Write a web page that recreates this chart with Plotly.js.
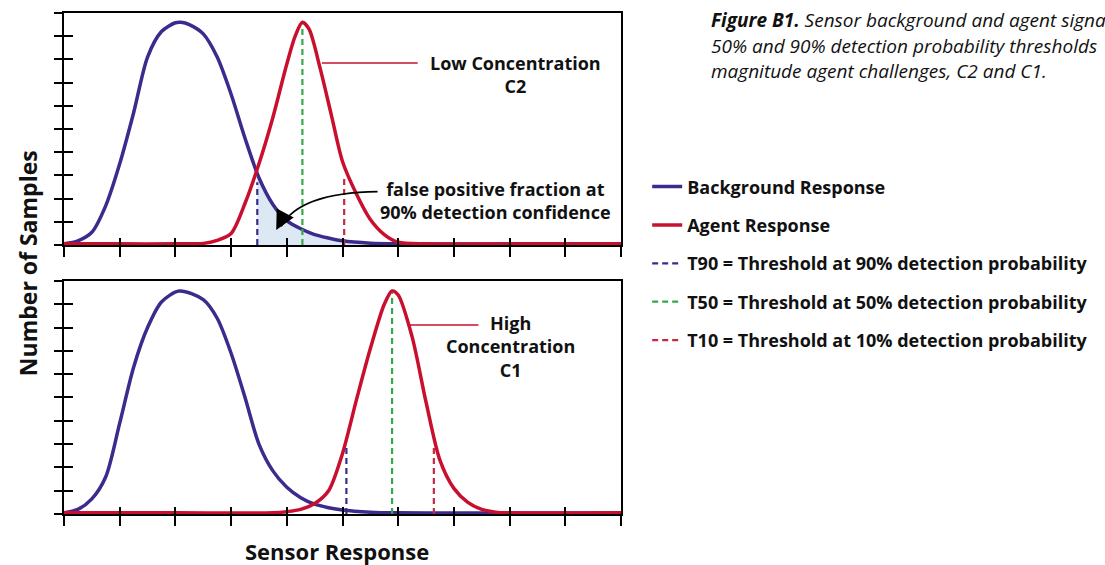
<!DOCTYPE html>
<html><head><meta charset="utf-8">
<script src="https://cdn.plot.ly/plotly-3.0.1.min.js"></script>
<style>html,body{margin:0;padding:0;background:#fff;overflow:hidden}</style>
</head><body>
<div id="chart" style="width:1105px;height:565px"></div>
<script>
// ---- Data (sensor response units, sample counts 0-10) ----
// Top panel: low concentration C2
const bgTopX = [0, 0.25, 0.5, 0.75, 1.0, 1.25, 1.5, 1.75, 2.0, 2.1, 2.25, 2.5, 2.75, 3.0, 3.25, 3.5, 3.75, 4.0, 4.25, 4.5, 4.75, 5.0, 5.5, 6.0, 7.0, 8.0, 10.0];
const bgTopY = [0.05, 0.18, 0.55, 1.7, 3.5, 5.7, 8.1, 9.2, 9.58, 9.6, 9.5, 9.1, 8.1, 6.5, 4.6, 2.9, 1.75, 1.05, 0.7, 0.45, 0.3, 0.18, 0.08, 0.05, 0.04, 0.04, 0.04];
const agTopX = [0, 1.0, 2.0, 2.5, 2.75, 3.0, 3.25, 3.5, 3.75, 4.0, 4.15, 4.28, 4.4, 4.6, 4.8, 5.0, 5.25, 5.5, 5.75, 6.0, 6.5, 8.0, 10.0];
const agTopY = [0.05, 0.05, 0.05, 0.07, 0.2, 0.5, 1.8, 3.5, 5.5, 7.8, 9.0, 9.6, 9.3, 7.6, 5.6, 3.6, 2.2, 1.1, 0.45, 0.12, 0.05, 0.05, 0.05];
// thresholds (x position, height of dashed marker)
const thrTopX = {T90: 3.47, T50: 4.28, T10: 5.03};
const thrTopH = {T90: 2.7, T50: 9.5, T10: 3.0};
const fillStartY = 3.05; // background value at the T90 threshold (top panel)

// Bottom panel: high concentration C1
const bgBotX = [0, 0.25, 0.5, 0.75, 1.0, 1.25, 1.5, 1.75, 2.07, 2.5, 2.75, 3.0, 3.25, 3.5, 3.75, 4.0, 4.25, 4.5, 4.75, 5.0, 5.5, 6.0, 7.0, 8.0, 10.0];
const bgBotY = [0.05, 0.2, 0.65, 1.6, 3.9, 6.3, 8.0, 9.1, 9.57, 9.2, 8.4, 6.9, 5.0, 3.0, 1.85, 1.15, 0.7, 0.42, 0.27, 0.17, 0.08, 0.05, 0.04, 0.04, 0.04];
const agBotX = [0, 2.0, 3.75, 4.0, 4.25, 4.5, 4.75, 5.0, 5.25, 5.5, 5.75, 5.89, 6.0, 6.25, 6.5, 6.75, 7.0, 7.25, 7.5, 7.75, 8.0, 10.0];
const agBotY = [0.05, 0.05, 0.05, 0.1, 0.2, 0.45, 1.0, 2.6, 4.9, 7.1, 9.0, 9.57, 9.4, 7.6, 4.8, 2.3, 1.1, 0.5, 0.2, 0.08, 0.05, 0.05];
const thrBotX = {T90: 5.07, T50: 5.89, T10: 6.64};
const thrBotH = {T90: 3.0, T50: 9.5, T10: 3.0};

const legendNames = {
  bg: 'Background Response',
  ag: 'Agent Response',
  T90: 'T90 = Threshold at 90% detection probability',
  T50: 'T50 = Threshold at 50% detection probability',
  T10: 'T10 = Threshold at 10% detection probability'
};
const xTicks = [0,1,2,3,4,5,6,7,8,9,10];
const yTicks = [0,1,2,3,4,5,6,7,8,9,10];

// ---- Styles ----
const BLUE = '#3a2b8c', RED = '#c8102e', GREEN = '#35a94a', RED_D = '#c42a44', FILL = '#dce9f5';
const FONT = 'Open Sans, Lato, sans-serif';
const thrColor = {T90: BLUE, T50: GREEN, T10: RED_D};

const traces = [];
// fill under background beyond T90 (top)
const fx = [thrTopX.T90], fy = [fillStartY];
bgTopX.forEach((x, i) => { if (x > thrTopX.T90) { fx.push(x); fy.push(bgTopY[i]); } });
traces.push({x: fx, y: fy, xaxis: 'x', yaxis: 'y', mode: 'lines', line: {width: 0, shape: 'spline', smoothing: 0.8},
  fill: 'tozeroy', fillcolor: FILL, showlegend: false, hoverinfo: 'skip'});

function panel(xa, ya, bx, by, ax, ay, tx, th, show) {
  traces.push({x: bx, y: by, xaxis: xa, yaxis: ya, mode: 'lines', name: legendNames.bg, legendgroup: 'bg',
    showlegend: show, line: {color: BLUE, width: 3.5, shape: 'spline', smoothing: 0.8}});
  traces.push({x: ax, y: ay, xaxis: xa, yaxis: ya, mode: 'lines', name: legendNames.ag, legendgroup: 'ag',
    showlegend: show, line: {color: RED, width: 3.5, shape: 'spline', smoothing: 0.8}});
  ['T90', 'T50', 'T10'].forEach(k => {
    traces.push({x: [tx[k], tx[k]], y: [0, th[k]], xaxis: xa, yaxis: ya, mode: 'lines', name: legendNames[k],
      legendgroup: k, showlegend: show, line: {color: thrColor[k], width: 2.2, dash: '6px,4px'}});
  });
}
panel('x', 'y', bgTopX, bgTopY, agTopX, agTopY, thrTopX, thrTopH, true);
panel('x2', 'y2', bgBotX, bgBotY, agBotX, agBotY, thrBotX, thrBotH, false);
// empty traces to activate the overlay axes (inner half of crossing ticks)
traces.push({x: [], y: [], xaxis: 'x3', yaxis: 'y', showlegend: false, hoverinfo: 'skip'});
traces.push({x: [], y: [], xaxis: 'x', yaxis: 'y3', showlegend: false, hoverinfo: 'skip'});
traces.push({x: [], y: [], xaxis: 'x4', yaxis: 'y2', showlegend: false, hoverinfo: 'skip'});
traces.push({x: [], y: [], xaxis: 'x2', yaxis: 'y4', showlegend: false, hoverinfo: 'skip'});

const topDom = [0.5369, 1], botDom = [0, 0.4651];
function mainX(anchor) {
  return {domain: [0, 1], range: [0, 10], anchor: anchor, tickvals: xTicks, showticklabels: false,
    ticks: 'outside', ticklen: 10, tickwidth: 2, tickcolor: '#000', showline: true, linecolor: '#000',
    linewidth: 2, mirror: true, showgrid: false, zeroline: false, fixedrange: true};
}
function mainY(anchor, dom) {
  return {domain: dom, range: [0, 10], anchor: anchor, tickvals: yTicks, showticklabels: false,
    ticks: 'outside', ticklen: 8, tickwidth: 2, tickcolor: '#000', showline: true, linecolor: '#000',
    linewidth: 2, mirror: true, showgrid: false, zeroline: false, fixedrange: true};
}
function ovX(over, anchor) {
  return {overlaying: over, anchor: anchor, range: [0, 10], tickvals: xTicks, showticklabels: false,
    ticks: 'inside', ticklen: 7, tickwidth: 2, tickcolor: '#000', showline: false, showgrid: false,
    zeroline: false, side: 'bottom', fixedrange: true};
}
function ovY(over, anchor) {
  return {overlaying: over, anchor: anchor, range: [0, 10], tickvals: yTicks, showticklabels: false,
    ticks: 'inside', ticklen: 9, tickwidth: 2, tickcolor: '#000', showline: false, showgrid: false,
    zeroline: false, side: 'left', fixedrange: true};
}

const bold = (s) => '<b>' + s + '</b>';
const TXT = '#111';
const annotations = [
  {xref: 'x', yref: 'y', x: 8.1, y: 7.37, xanchor: 'center', yanchor: 'middle', text: bold('Low Concentration<br>C2'), showarrow: false,
    font: {family: FONT, size: 18, color: TXT}, align: 'center'},
  {xref: 'x', yref: 'y', x: 7.75, y: 1.9, xanchor: 'center', yanchor: 'middle', text: bold('false positive fraction at<br>90% detection confidence'), showarrow: false,
    font: {family: FONT, size: 18, color: TXT}, align: 'center'},
  {xref: 'x', yref: 'y', x: 3.81, y: 0.65, ax: 9, ay: -17, text: '', showarrow: true, arrowhead: 2, arrowsize: 2.4,
    arrowwidth: 1.6, arrowcolor: '#000'},
  {xref: 'x2', yref: 'y2', x: 8.01, y: 7.17, xanchor: 'center', yanchor: 'middle', text: bold('High<br>Concentration<br>C1'), showarrow: false,
    font: {family: FONT, size: 18, color: TXT}, align: 'center'},
  {xref: 'paper', yref: 'paper', x: -0.0644, y: 0.501, xanchor: 'center', yanchor: 'middle', text: bold('Number of Samples'), textangle: -90, showarrow: false,
    font: {family: FONT, size: 23, color: TXT}},
  {xref: 'paper', yref: 'paper', x: 0.49, y: -0.0735, xanchor: 'center', yanchor: 'middle', text: bold('Sensor Response'), showarrow: false,
    font: {family: FONT, size: 22, color: TXT}},
  {xref: 'paper', yref: 'paper', x: 1.1574, y: 0.986, xanchor: 'left', yanchor: 'middle', text: '<b><i>Figure B1.</i></b><i> Sensor background and agent signal</i>',
    showarrow: false, font: {family: FONT, size: 19, color: TXT}},
  {xref: 'paper', yref: 'paper', x: 1.1574, y: 0.934, xanchor: 'left', yanchor: 'middle', text: '<i>50% and 90% detection probability thresholds</i>',
    showarrow: false, font: {family: FONT, size: 19, color: TXT}},
  {xref: 'paper', yref: 'paper', x: 1.1574, y: 0.884, xanchor: 'left', yanchor: 'middle', text: '<i>magnitude agent challenges, C2 and C1.</i>',
    showarrow: false, font: {family: FONT, size: 19, color: TXT}}
];

const shapes = [
  {type: 'line', xref: 'x', yref: 'y', x0: 4.63, x1: 6.35, y0: 7.84, y1: 7.84, line: {color: RED, width: 1.5}},
  {type: 'line', xref: 'x2', yref: 'y2', x0: 6.19, x1: 7.44, y0: 8.11, y1: 8.11, line: {color: RED, width: 1.5}},
  {type: 'path', xref: 'x', yref: 'y', path: 'M 5.63 2.3 Q 4.22 2.25 3.9 0.8', line: {color: '#000', width: 1.6}}
];

const layout = {
  width: 1105, height: 565, paper_bgcolor: '#fff', plot_bgcolor: 'rgba(0,0,0,0)',
  margin: {l: 64, r: 482, t: 13, b: 51},
  showlegend: true,
  legend: {x: 1.047, y: 0.69, xanchor: 'left', yanchor: 'top', bgcolor: 'rgba(0,0,0,0)',
    font: {family: FONT, size: 18, color: TXT, weight: 'bold'}, traceorder: 'grouped', tracegroupgap: 12,
    itemclick: false, itemdoubleclick: false},
  xaxis: mainX('y'), yaxis: mainY('x', topDom),
  xaxis2: mainX('y2'), yaxis2: mainY('x2', botDom),
  xaxis3: ovX('x', 'y'), yaxis3: ovY('y', 'x'),
  xaxis4: ovX('x2', 'y2'), yaxis4: ovY('y2', 'x2'),
  annotations: annotations, shapes: shapes
};

Plotly.newPlot('chart', traces, layout, {displayModeBar: false, staticPlot: true});
</script>
</body></html>
